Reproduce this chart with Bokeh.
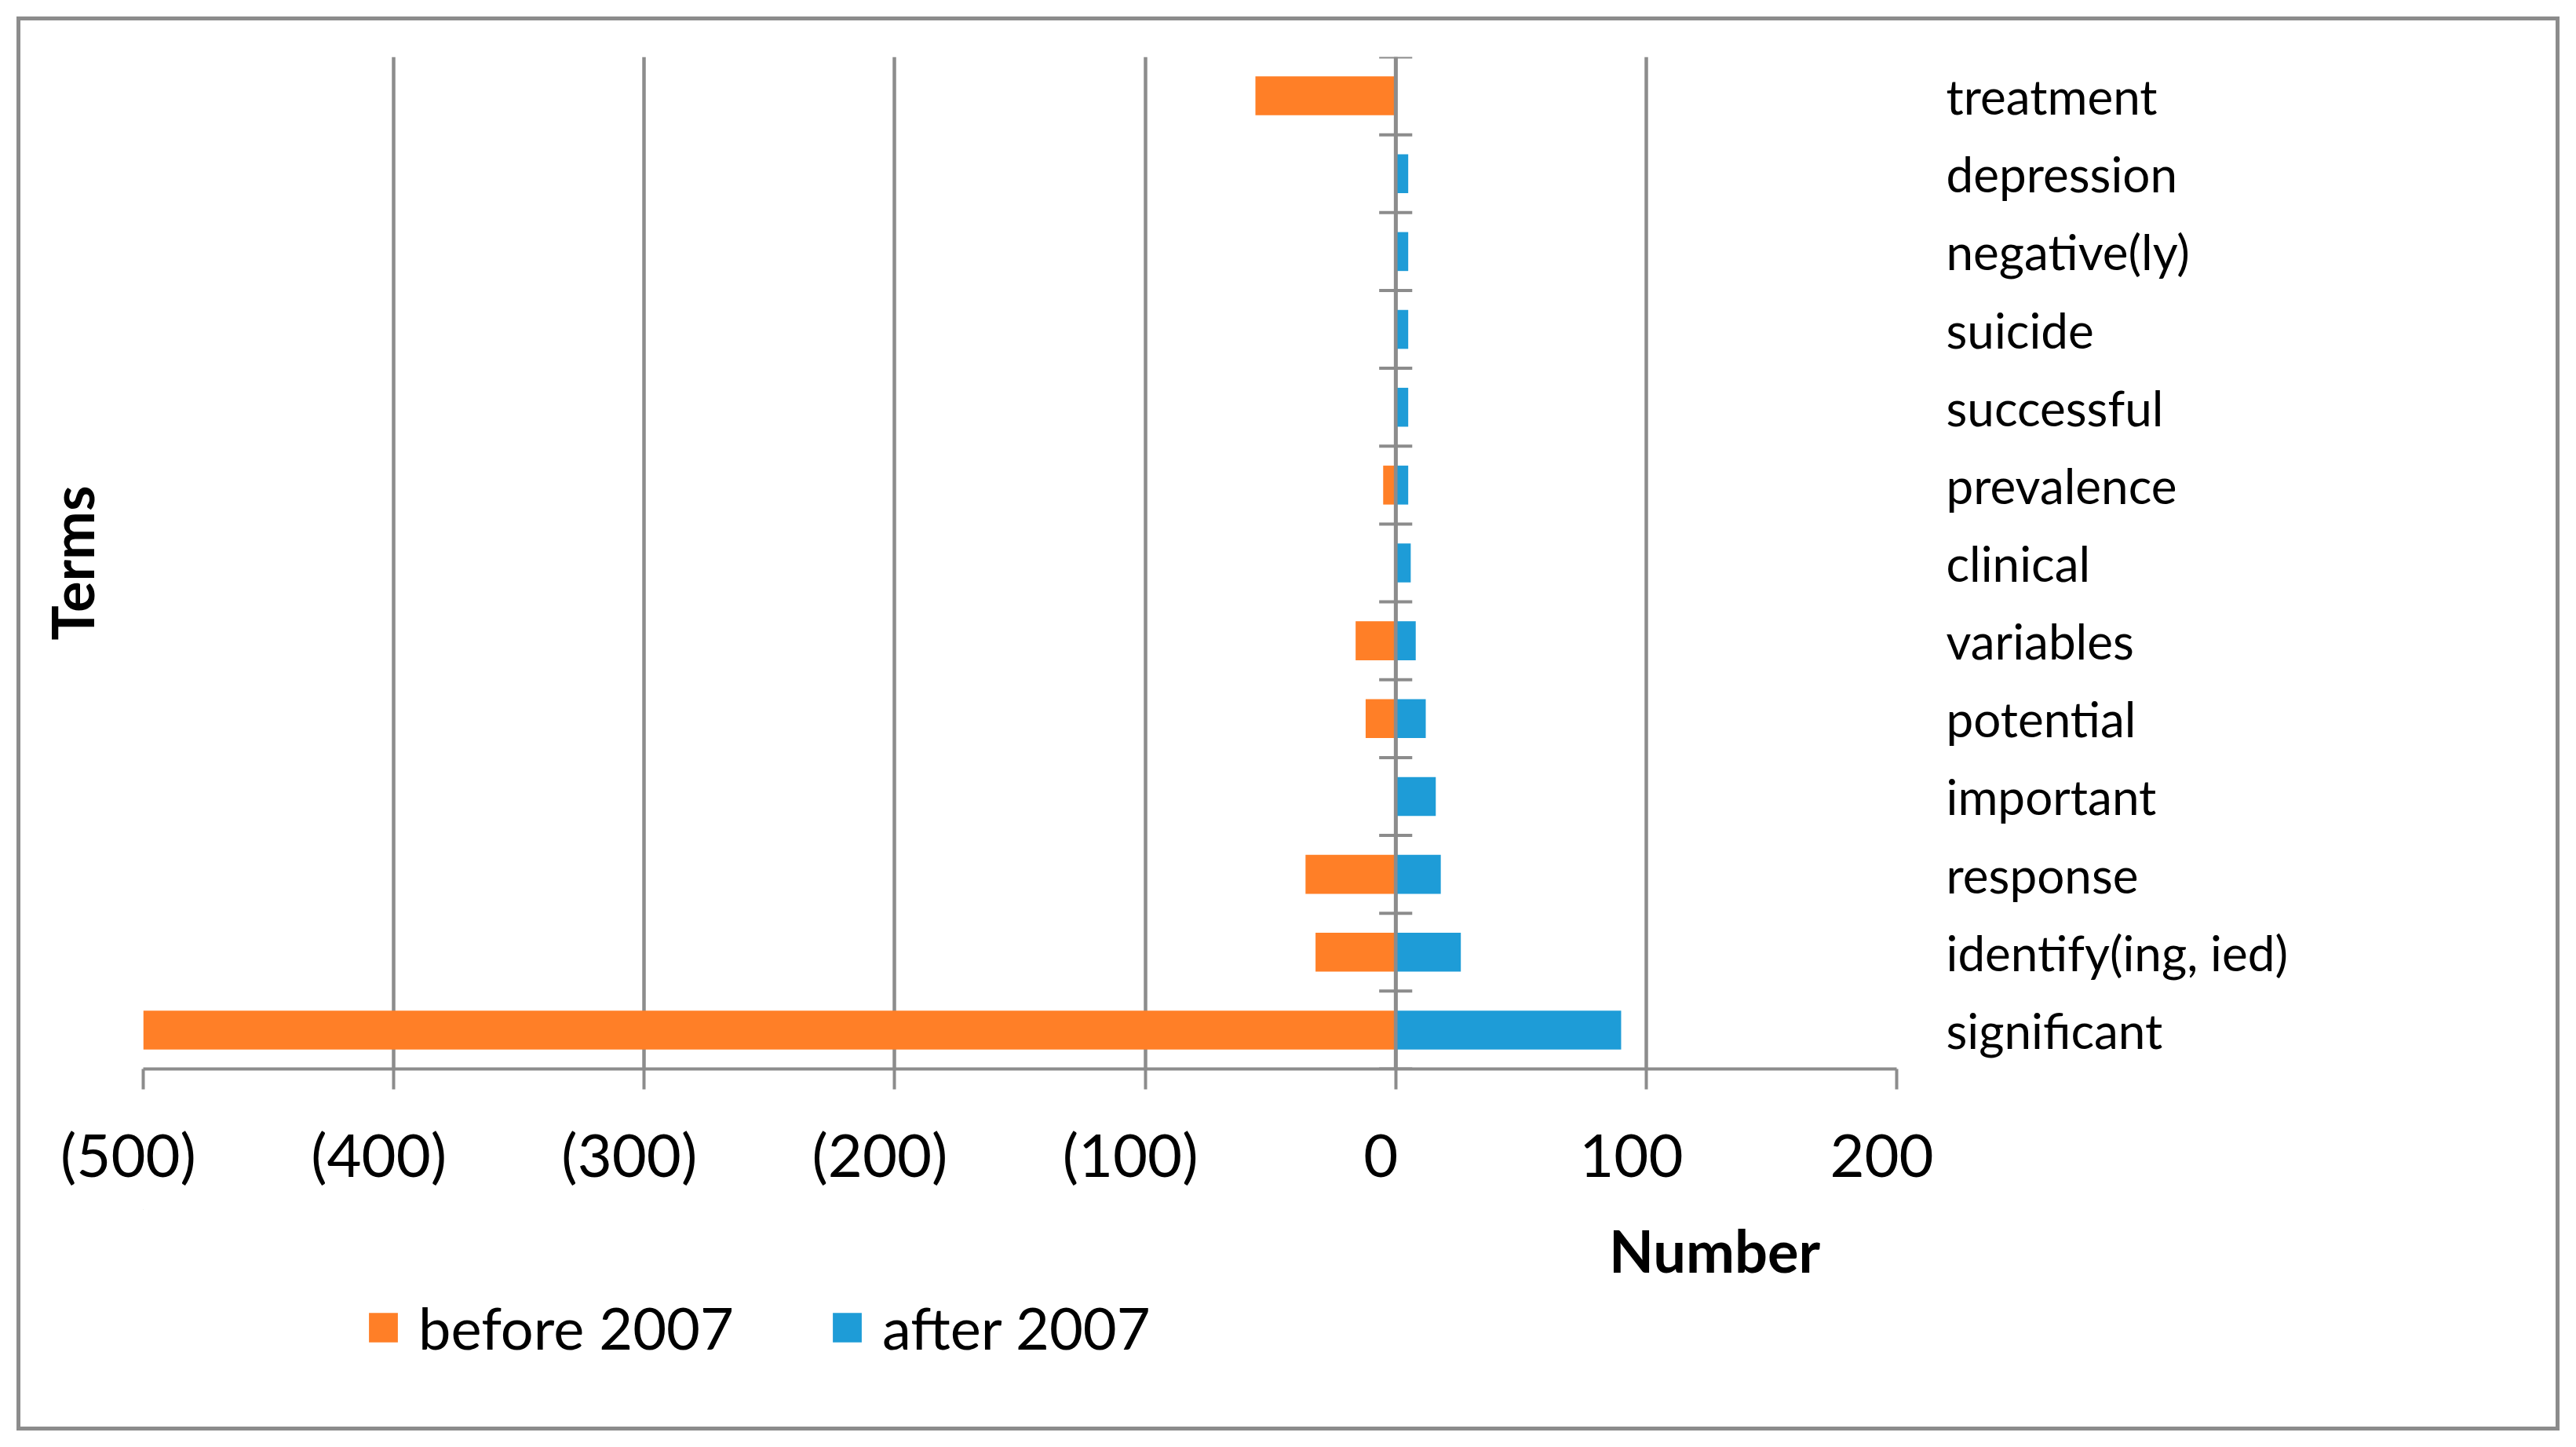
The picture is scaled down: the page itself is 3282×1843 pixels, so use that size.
from bokeh.plotting import figure
from bokeh.layouts import column
from bokeh.models import (Range1d, FixedTicker, Span, Title, Label, Legend, LegendItem,
                          ColumnDataSource)
from bokeh.embed import file_html
from bokeh.resources import INLINE

# ---- data (top to bottom as shown) ----
terms = ["treatment", "depression", "negative(ly)", "suicide", "successful",
         "prevalence", "clinical", "variables", "potential", "important",
         "response", "identify(ing, ied)", "significant"]
before_2007 = [-56, 0, 0, 0, 0, -5, 0, -16, -12, 0, -36, -32, -500]
after_2007 = [0, 5, 5, 5, 5, 5, 6, 8, 12, 16, 18, 26, 90]
x_ticks = [-500, -400, -300, -200, -100, 0, 100, 200]
x_tick_labels = ["(500)", "(400)", "(300)", "(200)", "(100)", "0", "100", "200"]
series_names = ["before 2007", "after 2007"]

ORANGE = "#FF7F27"
BLUE = "#1E9CD7"
GRAY = "#8C8C8C"
FONT = "Lato"

n = len(terms)
ypos = [n - i - 0.5 for i in range(n)]  # treatment on top

W, H = 3282, 1843
H1 = 1540
FL, FR = 182, 2416  # frame left / right (px)

# ---------------- main chart ----------------
p = figure(width=W, height=H1, output_backend="svg", toolbar_location=None,
           tools="", x_range=Range1d(-500, 200), y_range=Range1d(0, n),
           y_axis_location="right", title=None)
p.min_border_left = FL
p.min_border_right = W - FR
p.min_border_top = 72
p.min_border_bottom = H1 - 1361
p.outline_line_color = None
p.background_fill_color = "white"
p.border_fill_color = None

src = ColumnDataSource(dict(y=ypos, before=before_2007, after=after_2007, term=terms))
r_before = p.hbar(y="y", left=0, right="before", height=0.5, source=src,
                  fill_color=ORANGE, line_color=None)
r_after = p.hbar(y="y", left=0, right="after", height=0.5, source=src,
                 fill_color=BLUE, line_color=None)

# zero axis with cross ticks at category boundaries
p.add_layout(Span(location=0, dimension="height", line_color=GRAY, line_width=4.7))
bounds = list(range(n + 1))
p.segment(x0=[-6.6] * len(bounds), x1=[6.6] * len(bounds), y0=bounds, y1=bounds,
          line_color=GRAY, line_width=4)

# x axis
xa = p.xaxis[0]
xa.ticker = FixedTicker(ticks=x_ticks)
xa.major_label_overrides = {t: l + "\u2002" for t, l in zip(x_ticks, x_tick_labels)}
xa.axis_line_color = GRAY
xa.axis_line_width = 4
xa.major_tick_line_color = GRAY
xa.major_tick_line_width = 4
xa.major_tick_out = 26
xa.major_tick_in = 0
xa.minor_tick_line_color = None
xa.major_label_text_font = FONT
xa.major_label_text_font_size = "76px"
xa.major_label_text_color = "black"
xa.major_label_standoff = 36

p.xgrid.ticker = FixedTicker(ticks=x_ticks)
p.xgrid.grid_line_color = GRAY
p.xgrid.grid_line_width = 4.5
p.ygrid.visible = False

# category axis on the right
ya = p.yaxis[0]
ya.ticker = FixedTicker(ticks=ypos)
ya.major_label_overrides = {y: t for y, t in zip(ypos, terms)}
ya.axis_line_color = None
ya.major_tick_line_color = None
ya.major_tick_out = 0
ya.major_tick_in = 0
ya.minor_tick_line_color = None
ya.major_label_standoff = 63
ya.major_label_text_font = FONT
ya.major_label_text_font_size = "62px"
ya.major_label_text_color = "black"

p.add_layout(Title(text="Terms", align="center", offset=2, standoff=90,
                   vertical_align="top", text_font=FONT, text_font_size="74px",
                   text_font_style="bold", text_color="black"), "left")

# ---------------- bottom strip: axis title + legend ----------------
p2 = figure(width=W, height=H - H1, output_backend="svg", toolbar_location=None,
            tools="", x_range=Range1d(FL, FR), y_range=Range1d(H, H1),
            x_axis_location=None, y_axis_location=None, title=None)
p2.min_border_left = FL
p2.min_border_right = W - FR
p2.min_border_top = 0
p2.min_border_bottom = 0
p2.outline_line_color = None
p2.background_fill_color = None
p2.border_fill_color = None
p2.xgrid.visible = False
p2.ygrid.visible = False

p2.add_layout(Label(x=2184, y=1592, text="Number", text_align="center",
                    text_baseline="alphabetic", text_font=FONT, text_font_size="74px",
                    text_font_style="bold", text_color="black"))

# legend swatches (zero-size proxies, outside the strip's view)
lg_before = p2.hbar(y=[0], left=[0], right=[0], height=1, fill_color=ORANGE, line_color=None)
lg_after = p2.hbar(y=[0], left=[0], right=[0], height=1, fill_color=BLUE, line_color=None)
legend = Legend(items=[LegendItem(label=series_names[0], renderers=[lg_before]),
                       LegendItem(label=series_names[1], renderers=[lg_after])],
                orientation="horizontal", location=(465 - FL, 106),
                glyph_width=46, glyph_height=47, label_standoff=22, spacing=121,
                padding=0, margin=0, border_line_color=None,
                background_fill_alpha=0, label_text_font=FONT,
                label_text_font_size="74px", label_text_color="black",
                label_text_baseline="alphabetic", label_height=94)
p2.add_layout(legend, "center")

layout = column(p, p2, spacing=0,
                styles={"background-color": "white",
                        "box-shadow": "inset 0 0 0 21px white, inset 0 0 0 26px #8C8C8C"})

open("out.html", "w").write(file_html(layout, INLINE))
